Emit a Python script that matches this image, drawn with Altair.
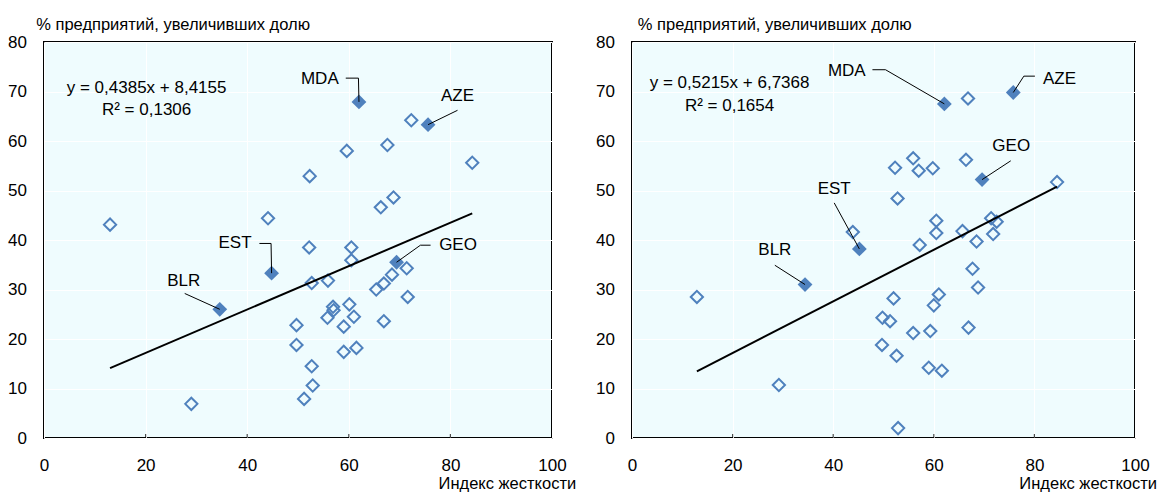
import altair as alt
import pandas as pd

FONT = "Liberation Sans, Arial, sans-serif"
FS = 17          # tick labels, country codes, equations
FS_TITLE = 16.5  # axis titles
BLUE = "#4F81BD"
PLOT_BG = "#EFFCFE"

x_ticks = [0, 20, 40, 60, 80, 100]
y_ticks = [0, 10, 20, 30, 40, 50, 60, 70, 80]
inner_ticks = [20, 40, 60, 80]

y_title = "% предприятий, увеличивших долю"
x_title = "Индекс жесткости"

codes = ["BLR", "EST", "MDA", "AZE", "GEO"]

# ---- left panel ----
a_x = [13.0, 72.3, 67.6, 59.6, 84.3, 52.3, 68.8, 66.3, 44.1, 52.2, 60.5, 60.5,
       71.4, 68.5, 66.9, 65.4, 55.9, 52.7, 71.6, 56.9, 57.0, 55.8, 60.1, 61.0,
       59.0, 66.9, 49.7, 49.7, 59.0, 61.5, 52.7, 52.9, 51.2, 29.0]
a_y = [43.1, 64.2, 59.2, 58.0, 55.6, 52.9, 48.6, 46.6, 44.4, 38.5, 38.5, 35.9,
       34.3, 33.0, 31.2, 30.0, 31.8, 31.3, 28.5, 26.5, 25.8, 24.3, 27.0, 24.5,
       22.5, 23.6, 22.8, 18.8, 17.4, 18.2, 14.5, 10.6, 7.9, 6.9]
a_hx = [34.6, 44.8, 62.0, 75.6, 69.4]
a_hy = [26.0, 33.3, 67.9, 63.3, 35.5]
a_lab_x = [27.5, 37.6, 54.3, 81.4, 81.5]
a_lab_y = [31.8, 39.3, 72.5, 69.0, 38.95]
a_leads = {
    "BLR": ([27.7, 34.6], [29.2, 26.0]),
    "EST": ([42.4, 44.7, 44.8], [39.3, 39.3, 33.3]),
    "MDA": ([59.4, 61.9, 62.0], [72.7, 72.7, 67.9]),
    "AZE": ([81.4, 75.6], [66.2, 63.3]),
    "GEO": ([76.1, 74.1, 69.4], [38.95, 38.95, 35.5]),
}
a_slope, a_intercept, a_r2 = 0.4385, 8.4155, 0.1306
a_eq_x, a_eq_y = 20.2, [70.8, 66.2]

# ---- right panel ----
b_x = [66.8, 55.9, 52.3, 57.0, 59.8, 66.4, 84.5, 52.8, 43.9, 60.5, 60.5, 65.7,
       71.4, 72.5, 71.8, 68.5, 57.2, 12.9, 67.7, 68.8, 52.0, 61.0, 60.0, 49.8,
       51.3, 55.9, 59.3, 66.9, 49.7, 52.6, 59.0, 61.6, 29.2, 52.9]
b_y = [68.6, 56.5, 54.6, 54.0, 54.5, 56.2, 51.7, 48.4, 41.6, 43.9, 41.4, 41.8,
       44.4, 43.7, 41.2, 39.7, 39.0, 28.5, 34.2, 30.4, 28.2, 29.0, 26.8, 24.3,
       23.6, 21.2, 21.6, 22.3, 18.8, 16.6, 14.2, 13.6, 10.7, 2.0]
b_hx = [34.4, 45.2, 62.1, 75.8, 69.6]
b_hy = [31.0, 38.2, 67.5, 69.8, 52.2]
b_lab_x = [28.4, 40.2, 42.7, 85.0, 75.4]
b_lab_y = [37.9, 50.4, 74.1, 72.6, 59.0]
b_leads = {
    "BLR": ([28.4, 34.4], [34.9, 31.0]),
    "EST": ([40.2, 45.2], [47.5, 38.2]),
    "MDA": ([47.8, 50.4, 62.1], [74.4, 74.4, 67.5]),
    "AZE": ([80.1, 77.9, 75.8], [73.1, 73.1, 69.8]),
    "GEO": ([75.3, 69.6], [56.0, 52.2]),
}
b_slope, b_intercept, b_r2 = 0.5215, 6.7368, 0.1654
b_eq_x, b_eq_y = 19.4, [71.7, 67.0]


def fmt(v):
    return f"{v:.4f}".replace(".", ",")


def panel(px, py, hx, hy, lab_x, lab_y, leads, slope, intercept, r2,
          eq_x, eq_y, width, height, ytitle_x, xtitle_x):
    x_axis = alt.Axis(
        values=x_ticks, format="d", title=x_title, grid=True, gridColor="white",
        gridWidth=1, domain=False, ticks=False, labelFont=FONT, labelFontSize=FS,
        labelColor="black", labelPadding=32.5, labelBaseline="alphabetic",
        labelFlush=False, labelAlign="center",
        titleFont=FONT, titleFontSize=FS_TITLE, titleFontWeight="normal", titleColor="black",
        titleAngle=0, titleAlign="right", titleBaseline="alphabetic",
        titleX=xtitle_x, titleY=50,
    )
    y_axis = alt.Axis(
        values=y_ticks, format="d", title=y_title, grid=True, gridColor="white",
        gridWidth=1, domain=False, ticks=False, labelFont=FONT, labelFontSize=FS,
        labelColor="black", labelPadding=17.5, labelBaseline="middle",
        labelFlush=False,
        titleFont=FONT, titleFontSize=FS_TITLE, titleFontWeight="normal", titleColor="black",
        titleAngle=0, titleAlign="left", titleBaseline="alphabetic",
        titleX=ytitle_x, titleY=-13,
    )
    X = alt.X("x:Q", scale=alt.Scale(domain=[0, 100], nice=False, zero=False), axis=x_axis)
    Y = alt.Y("y:Q", scale=alt.Scale(domain=[0, 80], nice=False, zero=False), axis=y_axis)

    pts = pd.DataFrame({"x": px, "y": py})
    hil = pd.DataFrame({"x": hx, "y": hy, "code": codes})
    labs = pd.DataFrame({"x": lab_x, "y": lab_y, "code": codes})
    rows = []
    for code, (xs, ys) in leads.items():
        for i, (lx, ly) in enumerate(zip(xs, ys)):
            rows.append({"code": code, "seq": i, "x": lx, "y": ly})
    lead_df = pd.DataFrame(rows)
    all_x = px + hx
    lo, hi = min(all_x), max(all_x)
    fit = pd.DataFrame({"x": [lo, hi], "y": [slope * lo + intercept, slope * hi + intercept]})
    eq = pd.DataFrame({
        "x": [eq_x, eq_x], "y": eq_y,
        "t": [f"y = {fmt(slope)}x + {fmt(intercept)}", f"R² = {fmt(r2)}"],
    })
    tick_df = pd.DataFrame({"x": inner_ticks, "y": [0] * len(inner_ticks)})

    ticks = alt.Chart(tick_df).mark_tick(
        orient="vertical", size=8, thickness=1.2, color="black", clip=True
    ).encode(x=X, y=Y)
    open_pts = alt.Chart(pts).mark_point(
        shape="diamond", filled=False, size=150, strokeWidth=2, color=BLUE, opacity=1
    ).encode(x=X, y=Y)
    fit_line = alt.Chart(fit).mark_line(color="black", strokeWidth=2).encode(x=X, y=Y)
    filled_pts = alt.Chart(hil).mark_point(
        shape="diamond", filled=True, size=220, color=BLUE, opacity=1
    ).encode(x=X, y=Y)
    leaders = alt.Chart(lead_df).mark_line(color="black", strokeWidth=1).encode(
        x=X, y=Y, detail="code:N", order="seq:Q"
    )
    labels = alt.Chart(labs).mark_text(
        font=FONT, fontSize=FS, color="black", align="center", baseline="middle"
    ).encode(x=X, y=Y, text="code:N")
    eq_text = alt.Chart(eq).mark_text(
        font=FONT, fontSize=FS, color="black", align="center", baseline="middle"
    ).encode(x=X, y=Y, text="t:N")

    return alt.layer(ticks, open_pts, fit_line, filled_pts, leaders, labels, eq_text).properties(
        width=width, height=height
    )


left = panel(a_x, a_y, a_hx, a_hy, a_lab_x, a_lab_y, a_leads, a_slope, a_intercept, a_r2,
             a_eq_x, a_eq_y, 508, 396, -8.3, 531.7)
right = panel(b_x, b_y, b_hx, b_hy, b_lab_x, b_lab_y, b_leads, b_slope, b_intercept, b_r2,
              b_eq_x, b_eq_y, 503, 396, 5.3, 524.5)

chart = alt.hconcat(left, right, spacing=80, bounds="flush").configure_view(
    stroke="black", strokeWidth=2, fill=PLOT_BG
).properties(
    padding={"left": 6, "top": 15, "right": 0, "bottom": 0}, background="white"
)

chart.save("out.html", embed_options={"renderer": "svg", "actions": False})
